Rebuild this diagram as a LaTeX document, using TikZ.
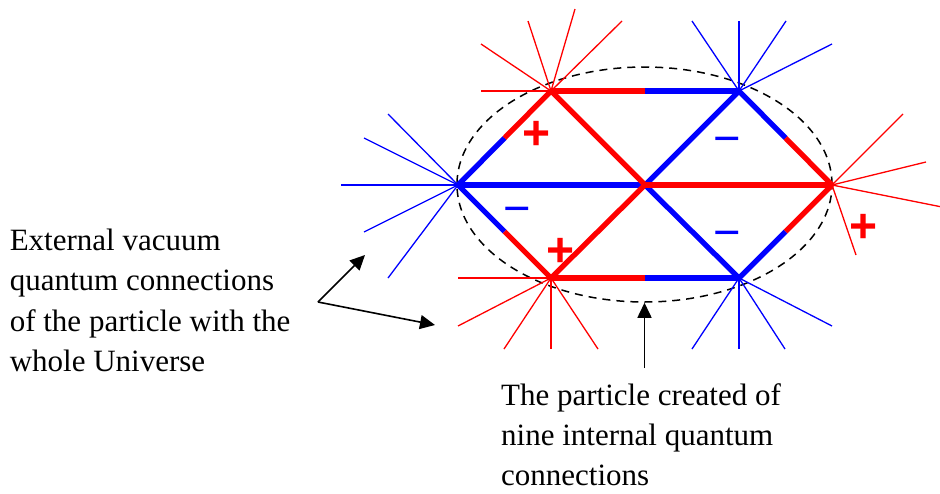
\documentclass[tikz,border=0pt]{standalone}
\usepackage{fontspec}
\setmainfont{Liberation Serif}
\newfontfamily\signfont{Liberation Sans}
\usetikzlibrary{arrows.meta,calc,shapes.geometric}
\definecolor{pred}{RGB}{255,0,0}
\definecolor{pblue}{RGB}{0,0,255}
\begin{document}
\begin{tikzpicture}[x=1pt,y=-1pt,
  edge/.style={line width=5.3pt,line cap=butt},
  ray/.style={line width=1.3pt},
  plussign/.style={text=pred,inner sep=0pt,yshift=-3pt,font=\signfont\bfseries\fontsize{48}{48}\selectfont},
  minussign/.style={text=pblue,inner sep=0pt,yshift=-7.5pt,font=\signfont\fontsize{47}{47}\selectfont},
  txt/.style={anchor=base west,inner sep=0pt,font=\fontsize{31}{40}\selectfont},
  pointer/.style={line width=1.6pt,-{Triangle[length=15pt,width=14pt]}}]
\useasboundingbox (0,0) rectangle (940,493);

% vertices
\coordinate (TL) at (551,91);
\coordinate (TR) at (739,91);
\coordinate (L) at (458,185);
\coordinate (C) at (645,185);
\coordinate (R) at (832,185);
\coordinate (BL) at (551,278);
\coordinate (BR) at (739,278);

% dashed particle boundary
\node[draw,dashed,dash pattern=on 8pt off 6pt,line width=1.5pt,ellipse,
      minimum width=375pt,minimum height=235pt,inner sep=0pt] (particle) at (644.5,184.5) {};

% external rays
\foreach \p in {(481,44),(528,21),(575,9),(622,21),(481,91)}
  \draw[ray,pred] (TL) -- \p;
\foreach \p in {(692,21),(739,21),(786,21),(832,44)}
  \draw[ray,pblue] (TR) -- \p;
\foreach \p in {(388,114),(364,138),(341,185),(364,232),(388,278)}
  \draw[ray,pblue] (L) -- \p;
\foreach \p in {(903,114),(926,162),(942,207),(856,255)}
  \draw[ray,pred] (R) -- \p;
\foreach \p in {(458,278),(458,326),(504,349),(551,349),(598,349)}
  \draw[ray,pred] (BL) -- \p;
\foreach \p in {(692,349),(739,349),(785,349),(832,326)}
  \draw[ray,pblue] (BR) -- \p;

% midpoints
\coordinate (mT) at ($(TL)!0.5!(TR)$);
\coordinate (mB) at ($(BL)!0.5!(BR)$);
\coordinate (mUL) at ($(L)!0.5!(TL)$);
\coordinate (mLL) at ($(L)!0.5!(BL)$);
\coordinate (mUR) at ($(TR)!0.5!(R)$);
\coordinate (mLR) at ($(BR)!0.5!(R)$);

% internal connections: blue
\draw[edge,pblue] (L) -- (C);
\draw[edge,pblue] (TR) -- (C);
\draw[edge,pblue] (BR) -- (C);
\draw[edge,pblue] (mT) -- (TR);
\draw[edge,pblue] (mB) -- (BR);
\draw[edge,pblue] (L) -- (mUL);
\draw[edge,pblue] (L) -- (mLL);
\draw[edge,pblue] (TR) -- (mUR);
\draw[edge,pblue] (BR) -- (mLR);
% internal connections: red
\draw[edge,pred] (TL) -- (C);
\draw[edge,pred] (BL) -- (C);
\draw[edge,pred] (C) -- (R);
\draw[edge,pred] (TL) -- (mT);
\draw[edge,pred] (BL) -- (mB);
\draw[edge,pred] (mUL) -- (TL);
\draw[edge,pred] (mLL) -- (BL);
\draw[edge,pred] (mUR) -- (R);
\draw[edge,pred] (mLR) -- (R);

% charges
\node[plussign] (plus1) at (537,132) {+};
\node[plussign] (plus2) at (561,249) {+};
\node[plussign] (plus3) at (864,225) {+};
\node[minussign] (minus1) at (727,138) {−};
\node[minussign] (minus2) at (517,208) {−};
\node[minussign] (minus3) at (727,232) {−};

% left label
\node[txt] (ext1) at (9.6,250) {External vacuum};
\node[txt] (ext2) at (9.6,290.6) {quantum connections};
\node[txt] (ext3) at (9.6,331.2) {of the particle with the};
\node[txt] (ext4) at (9.6,371.7) {whole Universe};

% bottom label
\node[txt] (int1) at (501,405) {The particle created of};
\node[txt] (int2) at (501,445) {nine internal quantum};
\node[txt] (int3) at (501,485) {connections};

% pointers
\coordinate (fork) at (318,302);
\coordinate (tipA) at (365,255);
\coordinate (tipB) at (435,325);
\coordinate (pstart) at (644.5,368);
\draw[pointer] (fork) -- (tipA);
\draw[pointer] (fork) -- (tipB);
\draw[pointer] (pstart) -- (particle.south);
\end{tikzpicture}
\end{document}
